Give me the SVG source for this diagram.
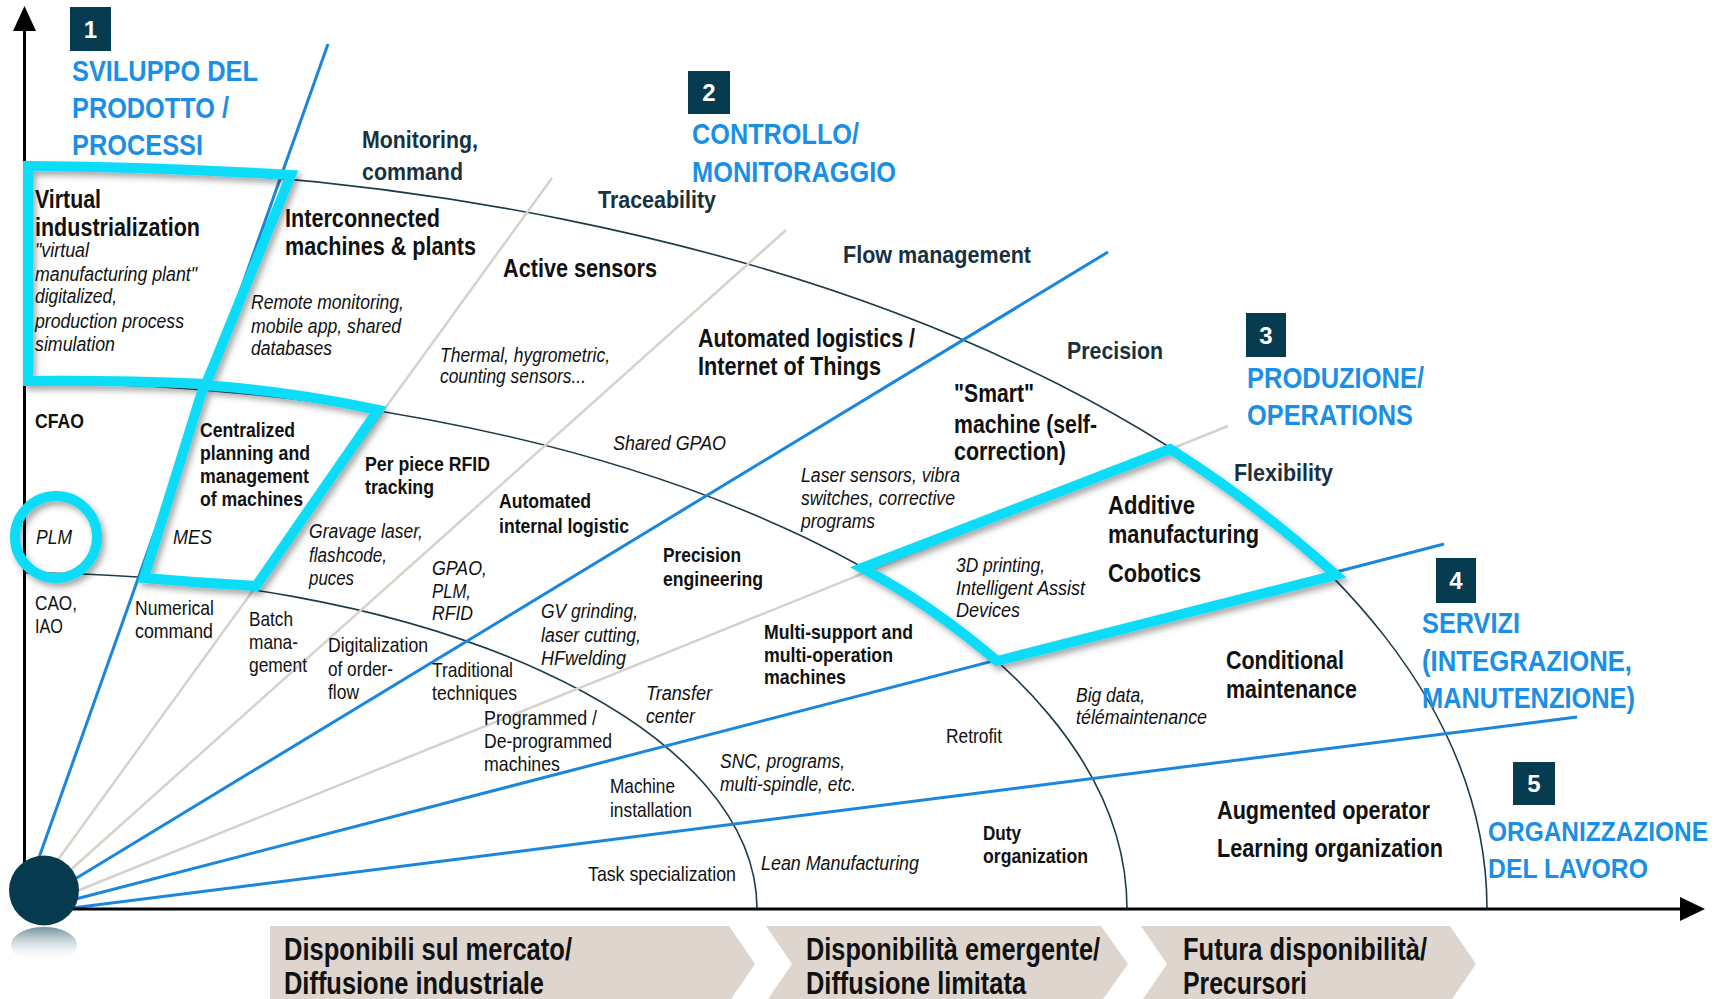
<svg xmlns="http://www.w3.org/2000/svg" width="1727" height="999" viewBox="0 0 1727 999">
<defs>
<style>
text{font-family:"Liberation Sans Narrow","Liberation Sans",Arial,sans-serif;}
.hd{font-weight:bold;font-size:30px;fill:#1b8fe6;}
.hd5{font-weight:bold;font-size:28px;fill:#1b8fe6;}
.num{font-weight:bold;font-size:24px;fill:#fff;text-anchor:middle;}
.nv{font-weight:bold;font-size:24px;fill:#17313f;}
.bb{font-weight:bold;font-size:25px;fill:#111;}
.bs{font-weight:bold;font-size:21px;fill:#111;}
.rg{font-size:21px;fill:#111;}
.it{font-style:italic;font-size:20px;fill:#111;}
.bn{font-weight:bold;font-size:31px;fill:#111;}
.ray-b{stroke:#1a86de;stroke-width:3;fill:none;}
.ray-g{stroke:#d8d1ca;stroke-width:2.5;fill:none;}
.arc{stroke:#1f3b48;stroke-width:1.6;fill:none;}
.hl{stroke:#0adcf8;stroke-width:10;fill:none;stroke-linejoin:miter;}
.box{fill:#073b4f;}
.banner{fill:#ddd5ce;}
</style>
<filter id="shadow" x="-10%" y="-10%" width="130%" height="130%">
<feDropShadow dx="3" dy="4" stdDeviation="3" flood-color="#000" flood-opacity="0.35"/>
</filter>
<linearGradient id="refl" x1="0" y1="0" x2="0" y2="1">
<stop offset="0" stop-color="#4e7584" stop-opacity="0.8"/>
<stop offset="1" stop-color="#ffffff" stop-opacity="0"/>
</linearGradient>
</defs>
<rect x="0" y="0" width="1727" height="999" fill="#fff"/>

<g id="banners">
<path class="banner" d="M270,926 L729,926 L755,964 L729,1002 L270,1002 Z"/>
<path class="banner" d="M766,926 L1101,926 L1128,964 L1101,1002 L766,1002 L792,964 Z"/>
<path class="banner" d="M1141,926 L1450,926 L1476,964 L1450,1002 L1141,1002 L1167,964 Z"/>
<text class="bn" x="284" y="960" textLength="288" lengthAdjust="spacingAndGlyphs">Disponibili sul mercato/</text>
<text class="bn" x="284" y="994" textLength="260" lengthAdjust="spacingAndGlyphs">Diffusione industriale</text>
<text class="bn" x="806" y="960" textLength="294" lengthAdjust="spacingAndGlyphs">Disponibilità emergente/</text>
<text class="bn" x="806" y="994" textLength="220" lengthAdjust="spacingAndGlyphs">Diffusione limitata</text>
<text class="bn" x="1183" y="960" textLength="244" lengthAdjust="spacingAndGlyphs">Futura disponibilità/</text>
<text class="bn" x="1183" y="994" textLength="124" lengthAdjust="spacingAndGlyphs">Precursori</text>
</g>

<g id="connectors">
<g id="arcs">
<path class="arc" d="M24,573 A733,336 0 0 1 757,909"/>
<path class="arc" d="M24,383 A1103,526 0 0 1 1127,909"/>
<path class="arc" d="M24,167 A1463,742 0 0 1 1487,909"/>
</g>
<g id="rays">
<line class="ray-b" x1="36" y1="866" x2="328" y2="44"/>
<line class="ray-g" x1="52" y1="868" x2="552" y2="178"/>
<line class="ray-g" x1="66" y1="874" x2="786" y2="230"/>
<line class="ray-b" x1="70" y1="882" x2="1108" y2="252"/>
<line class="ray-g" x1="72" y1="893" x2="1228" y2="426"/>
<line class="ray-b" x1="72" y1="900" x2="1444" y2="544"/>
<line class="ray-b" x1="72" y1="908" x2="1577" y2="717"/>
</g>
</g>

<g id="axes">
<line x1="24.5" y1="28" x2="24.5" y2="880" stroke="#000" stroke-width="3"/>
<path d="M24.5,6 L13,31 L36,31 Z" fill="#000"/>
<line x1="60" y1="909" x2="1684" y2="909" stroke="#000" stroke-width="3"/>
<path d="M1705,909 L1680,897 L1680,921 Z" fill="#000"/>
</g>

<g id="highlights" filter="url(#shadow)">
<path class="hl" d="M28,166 Q160,167 291,175 L206,384 Q110,380 28,381 Z"/>
<path class="hl" d="M204,385 Q295,392 378,410 L256,586 Q200,583 144,578 Z"/>
<path class="hl" d="M862,568 L1170,449 Q1253,501 1336,575 L997,661 Q930,604 862,568 Z"/>
<circle class="hl" cx="56" cy="537" r="41"/>
</g>

<g id="origin">
<ellipse cx="44" cy="945" rx="33" ry="18" fill="url(#refl)"/>
<circle cx="44" cy="890.5" r="35" fill="#063b4f"/>
</g>

<g id="cat1">
<rect class="box" x="70" y="7" width="41" height="44"/>
<text class="num" x="90.5" y="38">1</text>
<text class="hd" x="72" y="81" textLength="186" lengthAdjust="spacingAndGlyphs">SVILUPPO DEL</text>
<text class="hd" x="72" y="118" textLength="157" lengthAdjust="spacingAndGlyphs">PRODOTTO /</text>
<text class="hd" x="72" y="155" textLength="131" lengthAdjust="spacingAndGlyphs">PROCESSI</text>
</g>
<g id="cat2">
<rect class="box" x="688" y="71" width="42" height="43"/>
<text class="num" x="709" y="101">2</text>
<text class="hd" x="692" y="144" textLength="167" lengthAdjust="spacingAndGlyphs">CONTROLLO/</text>
<text class="hd" x="692" y="182" textLength="204" lengthAdjust="spacingAndGlyphs">MONITORAGGIO</text>
</g>
<g id="cat3">
<rect class="box" x="1246" y="313" width="40" height="44"/>
<text class="num" x="1266" y="344">3</text>
<text class="hd" x="1247" y="388" textLength="177" lengthAdjust="spacingAndGlyphs">PRODUZIONE/</text>
<text class="hd" x="1247" y="425" textLength="166" lengthAdjust="spacingAndGlyphs">OPERATIONS</text>
</g>
<g id="cat4">
<rect class="box" x="1436" y="558" width="40" height="45"/>
<text class="num" x="1456" y="589">4</text>
<text class="hd" x="1422" y="633" textLength="98" lengthAdjust="spacingAndGlyphs">SERVIZI</text>
<text class="hd" x="1422" y="671" textLength="210" lengthAdjust="spacingAndGlyphs">(INTEGRAZIONE,</text>
<text class="hd" x="1422" y="708" textLength="213" lengthAdjust="spacingAndGlyphs">MANUTENZIONE)</text>
</g>
<g id="cat5">
<rect class="box" x="1513" y="762" width="42" height="43"/>
<text class="num" x="1534" y="792">5</text>
<text class="hd5" x="0" y="0" transform="translate(1488 841) scale(0.87 1)" textLength="253" lengthAdjust="spacingAndGlyphs">ORGANIZZAZIONE</text>
<text class="hd5" x="1488" y="878" textLength="160" lengthAdjust="spacingAndGlyphs">DEL LAVORO</text>
</g>

<g id="axis-labels">
<text class="nv" x="362" y="148" textLength="116" lengthAdjust="spacingAndGlyphs">Monitoring,</text>
<text class="nv" x="362" y="180" textLength="101" lengthAdjust="spacingAndGlyphs">command</text>
<text class="nv" x="598" y="208" textLength="118" lengthAdjust="spacingAndGlyphs">Traceability</text>
<text class="nv" x="843" y="263" textLength="188" lengthAdjust="spacingAndGlyphs">Flow management</text>
<text class="nv" x="1067" y="359" textLength="96" lengthAdjust="spacingAndGlyphs">Precision</text>
<text class="nv" x="1234" y="481" textLength="99" lengthAdjust="spacingAndGlyphs">Flexibility</text>
</g>

<g id="virtual-industrialization">
<text class="bb" x="35" y="208" textLength="66" lengthAdjust="spacingAndGlyphs">Virtual</text>
<text class="bb" x="35" y="236" textLength="165" lengthAdjust="spacingAndGlyphs">industrialization</text>
<text class="it" x="35" y="257" textLength="54" lengthAdjust="spacingAndGlyphs">"virtual</text>
<text class="it" x="35" y="281" textLength="162" lengthAdjust="spacingAndGlyphs">manufacturing plant"</text>
<text class="it" x="35" y="303" textLength="82" lengthAdjust="spacingAndGlyphs">digitalized,</text>
<text class="it" x="35" y="328" textLength="149" lengthAdjust="spacingAndGlyphs">production process</text>
<text class="it" x="35" y="351" textLength="80" lengthAdjust="spacingAndGlyphs">simulation</text>
</g>
<g id="interconnected">
<text class="bb" x="285" y="227" textLength="155" lengthAdjust="spacingAndGlyphs">Interconnected</text>
<text class="bb" x="285" y="255" textLength="191" lengthAdjust="spacingAndGlyphs">machines &amp; plants</text>
<text class="it" x="251" y="309" textLength="153" lengthAdjust="spacingAndGlyphs">Remote monitoring,</text>
<text class="it" x="251" y="333" textLength="150" lengthAdjust="spacingAndGlyphs">mobile app, shared</text>
<text class="it" x="251" y="355" textLength="81" lengthAdjust="spacingAndGlyphs">databases</text>
</g>
<g id="active-sensors">
<text class="bb" x="503" y="277" textLength="154" lengthAdjust="spacingAndGlyphs">Active sensors</text>
<text class="it" x="440" y="362" textLength="170" lengthAdjust="spacingAndGlyphs">Thermal, hygrometric,</text>
<text class="it" x="440" y="383" textLength="146" lengthAdjust="spacingAndGlyphs">counting sensors...</text>
</g>
<g id="automated-logistics">
<text class="bb" x="698" y="347" textLength="217" lengthAdjust="spacingAndGlyphs">Automated logistics /</text>
<text class="bb" x="698" y="375" textLength="183" lengthAdjust="spacingAndGlyphs">Internet of Things</text>
<text class="it" x="613" y="450" textLength="113" lengthAdjust="spacingAndGlyphs">Shared GPAO</text>
</g>
<g id="smart-machine">
<text class="bb" x="954" y="402" textLength="80" lengthAdjust="spacingAndGlyphs">"Smart"</text>
<text class="bb" x="954" y="433" textLength="143" lengthAdjust="spacingAndGlyphs">machine (self-</text>
<text class="bb" x="954" y="460" textLength="112" lengthAdjust="spacingAndGlyphs">correction)</text>
<text class="it" x="801" y="482" textLength="159" lengthAdjust="spacingAndGlyphs">Laser sensors, vibra</text>
<text class="it" x="801" y="505" textLength="154" lengthAdjust="spacingAndGlyphs">switches, corrective</text>
<text class="it" x="801" y="528" textLength="74" lengthAdjust="spacingAndGlyphs">programs</text>
</g>
<g id="additive">
<text class="bb" x="1108" y="514" textLength="87" lengthAdjust="spacingAndGlyphs">Additive</text>
<text class="bb" x="1108" y="543" textLength="151" lengthAdjust="spacingAndGlyphs">manufacturing</text>
<text class="bb" x="1108" y="582" textLength="93" lengthAdjust="spacingAndGlyphs">Cobotics</text>
<text class="it" x="956" y="572" textLength="89" lengthAdjust="spacingAndGlyphs">3D printing,</text>
<text class="it" x="956" y="595" textLength="129" lengthAdjust="spacingAndGlyphs">Intelligent Assist</text>
<text class="it" x="956" y="617" textLength="64" lengthAdjust="spacingAndGlyphs">Devices</text>
</g>
<g id="cfao">
<text class="bs" x="35" y="428" textLength="49" lengthAdjust="spacingAndGlyphs">CFAO</text>
<text class="it" x="36" y="544" textLength="36" lengthAdjust="spacingAndGlyphs">PLM</text>
<text class="rg" x="35" y="610" textLength="42" lengthAdjust="spacingAndGlyphs">CAO,</text>
<text class="rg" x="35" y="633" textLength="28" lengthAdjust="spacingAndGlyphs">IAO</text>
</g>
<g id="centralized">
<text class="bs" x="200" y="437" textLength="95" lengthAdjust="spacingAndGlyphs">Centralized</text>
<text class="bs" x="200" y="460" textLength="110" lengthAdjust="spacingAndGlyphs">planning and</text>
<text class="bs" x="200" y="483" textLength="109" lengthAdjust="spacingAndGlyphs">management</text>
<text class="bs" x="200" y="506" textLength="103" lengthAdjust="spacingAndGlyphs">of machines</text>
<text class="it" x="173" y="544" textLength="39" lengthAdjust="spacingAndGlyphs">MES</text>
</g>
<g id="rfid">
<text class="bs" x="365" y="471" textLength="125" lengthAdjust="spacingAndGlyphs">Per piece RFID</text>
<text class="bs" x="365" y="494" textLength="69" lengthAdjust="spacingAndGlyphs">tracking</text>
<text class="it" x="309" y="538" textLength="114" lengthAdjust="spacingAndGlyphs">Gravage laser,</text>
<text class="it" x="309" y="562" textLength="78" lengthAdjust="spacingAndGlyphs">flashcode,</text>
<text class="it" x="309" y="585" textLength="45" lengthAdjust="spacingAndGlyphs">puces</text>
</g>
<g id="internal-logistic">
<text class="bs" x="499" y="508" textLength="92" lengthAdjust="spacingAndGlyphs">Automated</text>
<text class="bs" x="499" y="533" textLength="130" lengthAdjust="spacingAndGlyphs">internal logistic</text>
<text class="it" x="432" y="575" textLength="55" lengthAdjust="spacingAndGlyphs">GPAO,</text>
<text class="it" x="432" y="598" textLength="39" lengthAdjust="spacingAndGlyphs">PLM,</text>
<text class="it" x="432" y="620" textLength="41" lengthAdjust="spacingAndGlyphs">RFID</text>
</g>
<g id="precision-engineering">
<text class="bs" x="663" y="562" textLength="78" lengthAdjust="spacingAndGlyphs">Precision</text>
<text class="bs" x="663" y="586" textLength="100" lengthAdjust="spacingAndGlyphs">engineering</text>
<text class="it" x="541" y="618" textLength="97" lengthAdjust="spacingAndGlyphs">GV grinding,</text>
<text class="it" x="541" y="642" textLength="100" lengthAdjust="spacingAndGlyphs">laser cutting,</text>
<text class="it" x="541" y="665" textLength="85" lengthAdjust="spacingAndGlyphs">HFwelding</text>
</g>
<g id="multi-support">
<text class="bs" x="764" y="639" textLength="149" lengthAdjust="spacingAndGlyphs">Multi-support and</text>
<text class="bs" x="764" y="662" textLength="129" lengthAdjust="spacingAndGlyphs">multi-operation</text>
<text class="bs" x="764" y="684" textLength="82" lengthAdjust="spacingAndGlyphs">machines</text>
<text class="it" x="646" y="700" textLength="66" lengthAdjust="spacingAndGlyphs">Transfer</text>
<text class="it" x="646" y="723" textLength="49" lengthAdjust="spacingAndGlyphs">center</text>
</g>
<g id="conditional">
<text class="bb" x="1226" y="669" textLength="118" lengthAdjust="spacingAndGlyphs">Conditional</text>
<text class="bb" x="1226" y="698" textLength="131" lengthAdjust="spacingAndGlyphs">maintenance</text>
<text class="it" x="1076" y="702" textLength="69" lengthAdjust="spacingAndGlyphs">Big data,</text>
<text class="it" x="1076" y="724" textLength="131" lengthAdjust="spacingAndGlyphs">télémaintenance</text>
<text class="rg" x="946" y="743" textLength="56" lengthAdjust="spacingAndGlyphs">Retrofit</text>
</g>
<g id="first-ring">
<text class="rg" x="135" y="615" textLength="79" lengthAdjust="spacingAndGlyphs">Numerical</text>
<text class="rg" x="135" y="638" textLength="78" lengthAdjust="spacingAndGlyphs">command</text>
<text class="rg" x="249" y="626" textLength="44" lengthAdjust="spacingAndGlyphs">Batch</text>
<text class="rg" x="249" y="649" textLength="49" lengthAdjust="spacingAndGlyphs">mana-</text>
<text class="rg" x="249" y="672" textLength="58" lengthAdjust="spacingAndGlyphs">gement</text>
<text class="rg" x="328" y="652" textLength="100" lengthAdjust="spacingAndGlyphs">Digitalization</text>
<text class="rg" x="328" y="676" textLength="65" lengthAdjust="spacingAndGlyphs">of order-</text>
<text class="rg" x="328" y="699" textLength="31" lengthAdjust="spacingAndGlyphs">flow</text>
<text class="rg" x="432" y="677" textLength="81" lengthAdjust="spacingAndGlyphs">Traditional</text>
<text class="rg" x="432" y="700" textLength="85" lengthAdjust="spacingAndGlyphs">techniques</text>
<text class="rg" x="484" y="725" textLength="113" lengthAdjust="spacingAndGlyphs">Programmed /</text>
<text class="rg" x="484" y="748" textLength="128" lengthAdjust="spacingAndGlyphs">De-programmed</text>
<text class="rg" x="484" y="771" textLength="76" lengthAdjust="spacingAndGlyphs">machines</text>
<text class="rg" x="610" y="793" textLength="65" lengthAdjust="spacingAndGlyphs">Machine</text>
<text class="rg" x="610" y="817" textLength="82" lengthAdjust="spacingAndGlyphs">installation</text>
<text class="rg" x="588" y="881" textLength="148" lengthAdjust="spacingAndGlyphs">Task specialization</text>
</g>
<g id="organisation">
<text class="it" x="720" y="768" textLength="125" lengthAdjust="spacingAndGlyphs">SNC, programs,</text>
<text class="it" x="720" y="791" textLength="136" lengthAdjust="spacingAndGlyphs">multi-spindle, etc.</text>
<text class="it" x="761" y="870" textLength="158" lengthAdjust="spacingAndGlyphs">Lean Manufacturing</text>
<text class="bs" x="983" y="840" textLength="38" lengthAdjust="spacingAndGlyphs">Duty</text>
<text class="bs" x="983" y="863" textLength="105" lengthAdjust="spacingAndGlyphs">organization</text>
<text class="bb" x="1217" y="819" textLength="213" lengthAdjust="spacingAndGlyphs">Augmented operator</text>
<text class="bb" x="1217" y="857" textLength="226" lengthAdjust="spacingAndGlyphs">Learning organization</text>
</g>
</svg>
